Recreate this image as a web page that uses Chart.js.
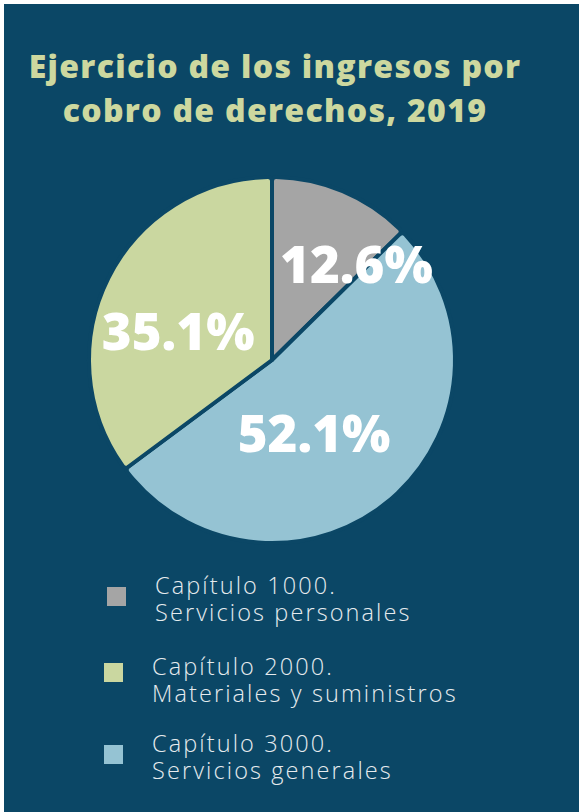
<!DOCTYPE html>
<html>
<head>
<meta charset="utf-8">
<script src="https://cdn.jsdelivr.net/npm/chart.js@4.4.1/dist/chart.umd.min.js"></script>
<style>
  html,body{margin:0;padding:0;background:#ffffff;}
  #frame{position:absolute;left:4px;top:4px;width:575px;height:808px;background:#0b4766;overflow:hidden;}
  #title{position:absolute;left:0;top:40px;width:542px;text-align:center;color:#cdd89f;
    font-family:"Open Sans",sans-serif;font-weight:800;font-size:32px;line-height:44px;letter-spacing:1.3px;}
  #chartbox{position:absolute;left:68px;top:156px;width:400px;height:400px;}
  .leg{position:absolute;font-family:"Open Sans",sans-serif;font-weight:300;font-size:23.5px;line-height:27px;color:#e6ebee;letter-spacing:2.1px;}
  .sw{position:absolute;width:19px;height:19px;}
</style>
</head>
<body>
<div id="frame">
  <div id="title">Ejercicio de los ingresos por<br>cobro de derechos, 2019</div>
  <div id="chartbox"><canvas id="c" width="400" height="400"></canvas></div>
  <div id="legend"></div>
</div>
<script>
const categories = ["Capítulo 1000.\nServicios personales", "Capítulo 2000.\nMateriales y suministros", "Capítulo 3000.\nServicios generales"];
const sliceOrder = [0, 2, 1];           // clockwise from top: gray, blue, green
const values = [12.6, 35.1, 52.1];       // percent per category
const colors = ["#a5a5a5", "#cad7a0", "#95c3d3"];
const labelTexts = ["12.6%", "35.1%", "52.1%"];

const orderedLabels = sliceOrder.map(i => categories[i]);
const orderedValues = sliceOrder.map(i => values[i]);
const orderedColors = sliceOrder.map(i => colors[i]);
const orderedTexts = sliceOrder.map(i => labelTexts[i]);
// label placement: fraction of radius and angular shift (degrees) per ordered slice
const labelRadius = [0.68, 0.48, 0.53];
const labelShift = [20, 12, -12];

const pctPlugin = {
  id: 'pct',
  afterDatasetsDraw(chart) {
    const ctx = chart.ctx;
    const meta = chart.getDatasetMeta(0);
    ctx.save();
    ctx.fillStyle = '#ffffff';
    ctx.font = '800 51px "Open Sans", sans-serif';
    ctx.textAlign = 'center';
    ctx.textBaseline = 'middle';
    meta.data.forEach((arc, i) => {
      const p = arc.getProps(['x','y','startAngle','endAngle','outerRadius'], true);
      const mid = (p.startAngle + p.endAngle) / 2 + labelShift[i] * Math.PI / 180;
      const r = p.outerRadius * labelRadius[i];
      ctx.fillText(orderedTexts[i], p.x + Math.cos(mid) * r, p.y + Math.sin(mid) * r);
    });
    ctx.restore();
  }
};

new Chart(document.getElementById('c'), {
  type: 'pie',
  data: {
    labels: orderedLabels,
    datasets: [{
      data: orderedValues,
      backgroundColor: orderedColors,
      borderColor: '#0b4766',
      borderWidth: 4,
      borderRadius: 4,
      borderJoinStyle: 'round'
    }]
  },
  options: {
    responsive: false,
    animation: false,
    layout: { padding: 15 },
    plugins: { legend: { display: false }, tooltip: { enabled: false } }
  },
  plugins: [pctPlugin]
});

// HTML legend
const legendPos = [
  { sx: 103, sy: 583, tx: 151, ty: 568 },
  { sx: 100, sy: 659, tx: 148, ty: 649 },
  { sx: 100, sy: 741, tx: 148, ty: 726 }
];
const legend = document.getElementById('legend');
categories.forEach((cat, i) => {
  const sw = document.createElement('div');
  sw.className = 'sw';
  sw.style.left = legendPos[i].sx + 'px';
  sw.style.top = legendPos[i].sy + 'px';
  sw.style.background = colors[i];
  legend.appendChild(sw);
  const t = document.createElement('div');
  t.className = 'leg';
  t.style.left = legendPos[i].tx + 'px';
  t.style.top = legendPos[i].ty + 'px';
  t.innerHTML = cat.split('\n').join('<br>');
  legend.appendChild(t);
});
</script>
</body>
</html>
